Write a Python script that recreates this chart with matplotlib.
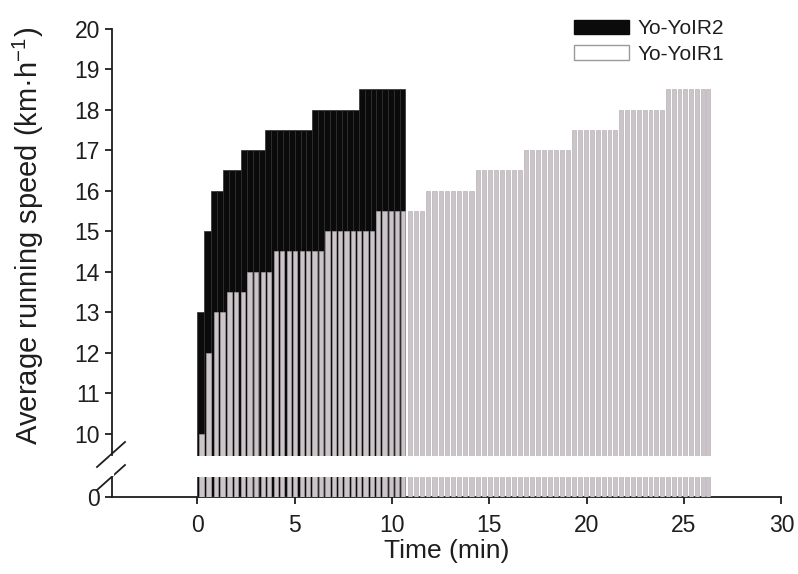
import matplotlib
matplotlib.use("Agg")
import matplotlib.pyplot as plt
from matplotlib.patches import Patch
from matplotlib.lines import Line2D
import numpy as np

plt.rcParams['font.family'] = ['Liberation Sans', 'DejaVu Sans']

# ---- data ----
ir1_speeds = [10, 12, 13, 13.5, 14, 14.5, 15, 15.5, 16, 16.5, 17, 17.5, 18, 18.5]
ir1_shuttles = [1, 1, 2, 3, 4, 8, 8, 8, 8, 8, 8, 8, 8, 8]
ir1_shuttle_sec = [24.4, 22.0, 21.1, 20.7, 20.3, 19.9, 19.6, 19.3, 19.0, 18.7, 18.5, 18.2, 18.0, 17.8]

ir2_speeds = [13, 15, 16, 16.5, 17, 17.5, 18, 18.5]
ir2_shuttles = [1, 1, 2, 3, 4, 8, 8, 8]
ir2_shuttle_sec = [21.1, 19.6, 19.0, 18.7, 18.5, 18.2, 18.0, 17.8]

x_ticks = [0, 5, 10, 15, 20, 25, 30]
y_ticks_top = [10, 11, 12, 13, 14, 15, 16, 17, 18, 19, 20]
y_ticks_bottom = [0]
labels = ["Yo-YoIR2", "Yo-YoIR1"]


def expand(speeds, counts, secs):
    lefts, widths, heights = [], [], []
    t = 0.0
    for v, n, s in zip(speeds, counts, secs):
        for _ in range(n):
            lefts.append(t)
            widths.append(s / 60.0)
            heights.append(v)
            t += s / 60.0
    return np.array(lefts), np.array(widths), np.array(heights)


l1, w1, h1 = expand(ir1_speeds, ir1_shuttles, ir1_shuttle_sec)
l2, w2, h2 = expand(ir2_speeds, ir2_shuttles, ir2_shuttle_sec)

W, H = 798, 574
fig = plt.figure(figsize=(W / 100, H / 100), dpi=100)

left = 111.7 / W
width = (781.4 - 111.7) / W
top_ax = fig.add_axes([left, 1 - 455.8 / H, width, (455.8 - 28.5) / H])
bot_ax = fig.add_axes([left, 1 - 497 / H, width, (497 - 477) / H])

black = '#0b0b0b'
grey = '#cbc4c8'
txt = '#1e1e1e'

for ax in (top_ax, bot_ax):
    ax.bar(l2, h2, width=w2, align='edge', color=black, edgecolor='#2e2e2e', linewidth=0.5, zorder=2)
    ax.bar(l1 + w1 * 0.17, h1, width=w1 * 0.66, align='edge', color=grey,
           edgecolor='#aea7ab', linewidth=0.4, zorder=3)
    ax.set_xlim(-4.4, 30)
    ax.set_facecolor('none')
    for s in ('top', 'right'):
        ax.spines[s].set_visible(False)
    ax.spines['left'].set_linewidth(1.3)
    ax.spines['bottom'].set_linewidth(1.3)
    ax.spines['left'].set_color(txt)
    ax.spines['bottom'].set_color(txt)
    ax.tick_params(direction='out', length=5, width=1.3, colors=txt, labelsize=16.5)

top_ax.set_ylim(9.45, 20)
top_ax.set_yticks(y_ticks_top)
top_ax.spines['bottom'].set_visible(False)
top_ax.tick_params(axis='x', bottom=False, labelbottom=False)

bot_ax.set_ylim(0, 0.49)
bot_ax.set_yticks(y_ticks_bottom)
bot_ax.set_xticks(x_ticks)
bot_ax.spines['bottom'].set_bounds(-4.4, 30)
bot_ax.tick_params(axis='x', pad=7)

top_ax.set_ylabel('Average running speed (km·h$^{\\mathregular{-1}}$)', fontsize=21, color=txt)
top_ax.yaxis.set_label_coords(-0.098, 0.515)
bot_ax.set_xlabel('Time (min)', fontsize=19, color=txt, labelpad=2)

# break marks
for (x0, y0, x1, y1) in [(97, 467, 125, 442), (97, 490, 125, 465)]:
    fig.add_artist(Line2D([x0 / W, x1 / W], [1 - y0 / H, 1 - y1 / H], color=txt, lw=1.3))
# white gap on the axis between marks
fig.add_artist(Line2D([111.7 / W, 111.7 / W], [1 - 474 / H, 1 - 458 / H], color='white', lw=3))

handles = [Patch(facecolor=black, edgecolor=black),
           Patch(facecolor='white', edgecolor='#9a9a9a', linewidth=1.0)]
fig.legend(handles, labels, loc='upper left', bbox_to_anchor=(566 / W, 1 - 11 / H),
           frameon=False, fontsize=15, handlelength=2.6, handleheight=0.7,
           handletextpad=0.45, labelspacing=0.3, borderaxespad=0)
for t in fig.legends[0].get_texts():
    t.set_color(txt)

fig.savefig('out.png', dpi=100)
